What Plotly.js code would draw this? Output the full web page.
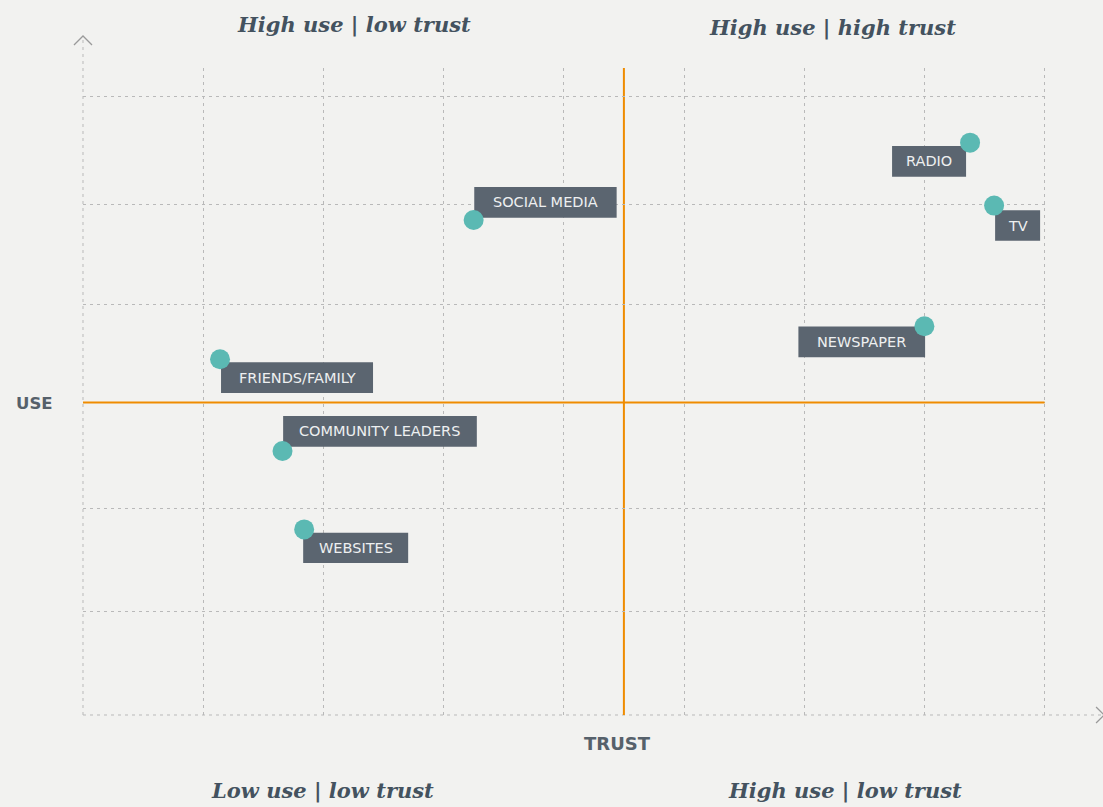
<!DOCTYPE html>
<html>
<head>
<meta charset="utf-8">
<script src="https://cdn.plot.ly/plotly-3.0.1.min.js"></script>
<style>
  html, body { margin: 0; padding: 0; background: #f2f2f0; }
  #chart { width: 1103px; height: 807px; }
</style>
</head>
<body>
<div id="chart"></div>
<script>
// ---- data ----
const categories = ['RADIO', 'TV', 'SOCIAL MEDIA', 'NEWSPAPER', 'FRIENDS/FAMILY', 'COMMUNITY LEADERS', 'WEBSITES'];
const trust = [7.38, 7.58, 3.25, 7.00, 1.14, 1.66, 1.84];
const use   = [5.55, 4.94, 4.80, 3.77, 3.45, 2.56, 1.80];
const trustGrid = [1, 2, 3, 4, 5, 6, 7, 8];
const useGrid = [1, 2, 3.03, 3.98, 4.955, 6];
const trustMid = 4.5;
const useMid = 3.03;
const quadrantTitles = ['High use | low trust', 'High use | high trust', 'Low use | low trust', 'High use | low trust'];
const axisNames = ['TRUST', 'USE'];

// ---- label box layout (pixel offsets from the point: left, right, bottom, top; up is positive) ----
const labelBoxes = [
  [-78, -4, -34, -3.3],
  [1, 46, -35.3, -4.7],
  [0.6, 143, 2.3, 33],
  [-126, 0.7, -31, -0.3],
  [1, 153, -33.7, -3],
  [0.6, 194.3, 4.3, 35],
  [-1, 104, -33.7, -3.3]
];

const gridColor = '#b9b9b9';
const orange = '#ef8c00';
const boxColor = '#5b6570';
const dotColor = '#5bb9b3';
const titleColor = '#44525f';

const shapes = [];
const annotations = [];

// extended axis lines + arrow chevrons (paper coords)
shapes.push({type: 'line', xref: 'paper', yref: 'paper', x0: 0, x1: 0, y0: 0, y1: 1.0495,
  line: {color: gridColor, width: 1, dash: '3px,4px'}, layer: 'between'});
shapes.push({type: 'line', xref: 'paper', yref: 'paper', x0: 0, x1: 1.0593, y0: 0, y1: 0,
  line: {color: gridColor, width: 1, dash: '3px,4px'}, layer: 'between'});
shapes.push({type: 'path', xref: 'paper', yref: 'paper',
  path: 'M -0.00936 1.0355 L 0 1.0495 L 0.00936 1.0355',
  line: {color: '#9a9a9a', width: 1.3}});
shapes.push({type: 'path', xref: 'paper', yref: 'paper',
  path: 'M 1.0509 0.01236 L 1.0593 0 L 1.0509 -0.01236',
  line: {color: '#9a9a9a', width: 1.3}});

// quadrant dividers
shapes.push({type: 'line', xref: 'x', yref: 'paper', x0: trustMid, x1: trustMid, y0: 0, y1: 1,
  line: {color: orange, width: 2}, layer: 'between'});
shapes.push({type: 'line', xref: 'x', yref: 'y', x0: 0, x1: 8, y0: useMid, y1: useMid,
  line: {color: orange, width: 2}, layer: 'between'});

// label boxes + texts
categories.forEach((c, i) => {
  const b = labelBoxes[i];
  shapes.push({
    type: 'rect', xref: 'x', yref: 'y',
    xsizemode: 'pixel', ysizemode: 'pixel',
    xanchor: trust[i], yanchor: use[i],
    x0: b[0], x1: b[1], y0: b[2], y1: b[3],
    fillcolor: boxColor, line: {width: 0}, layer: 'between'
  });
  annotations.push({
    x: trust[i], y: use[i], xref: 'x', yref: 'y',
    xshift: (b[0] + b[1]) / 2, yshift: (b[2] + b[3]) / 2,
    xanchor: 'center', yanchor: 'middle',
    text: c, showarrow: false,
    font: {family: 'DejaVu Sans', size: 14.5, color: '#eef0f1'}
  });
});

// quadrant titles
const qPos = [[0.281, 1.068], [0.778, 1.062], [0.248, -0.117], [0.790, -0.117]];
quadrantTitles.forEach((t, i) => {
  annotations.push({
    x: qPos[i][0], y: qPos[i][1], xref: 'paper', yref: 'paper',
    xanchor: 'center', yanchor: 'middle', text: t, showarrow: false,
    font: {family: 'DejaVu Serif', size: 21, color: titleColor, style: 'italic', weight: 'bold'}
  });
});

// axis names
annotations.push({x: 0.554, y: -0.0448, xref: 'paper', yref: 'paper', xanchor: 'center', yanchor: 'middle',
  text: '<b>' + axisNames[0] + '</b>', showarrow: false,
  font: {family: 'DejaVu Sans', size: 18, color: '#56616b'}});
annotations.push({x: -0.0498, y: 0.482, xref: 'paper', yref: 'paper', xanchor: 'center', yanchor: 'middle',
  text: '<b>' + axisNames[1] + '</b>', showarrow: false,
  font: {family: 'DejaVu Sans', size: 16.5, color: '#56616b'}});

const trace = {
  type: 'scatter', mode: 'markers',
  x: trust, y: use, text: categories,
  marker: {size: 20, color: dotColor, line: {width: 0}},
  hoverinfo: 'text', cliponaxis: false
};

const layout = {
  width: 1103, height: 807,
  margin: {l: 83, r: 56, t: 68, b: 92},
  paper_bgcolor: '#f2f2f0', plot_bgcolor: '#f2f2f0',
  showlegend: false,
  xaxis: {range: [0, 8.02], tickvals: trustGrid, showticklabels: false, ticks: '',
    showgrid: true, gridcolor: gridColor, gridwidth: 1, griddash: '3px,4px',
    zeroline: false, showline: false, fixedrange: true},
  yaxis: {range: [0, 6.274], tickvals: useGrid, showticklabels: false, ticks: '',
    showgrid: true, gridcolor: gridColor, gridwidth: 1, griddash: '3px,4px',
    zeroline: false, showline: false, fixedrange: true},
  shapes: shapes,
  annotations: annotations
};

Plotly.newPlot('chart', [trace], layout, {displayModeBar: false, staticPlot: true});
</script>
</body>
</html>
